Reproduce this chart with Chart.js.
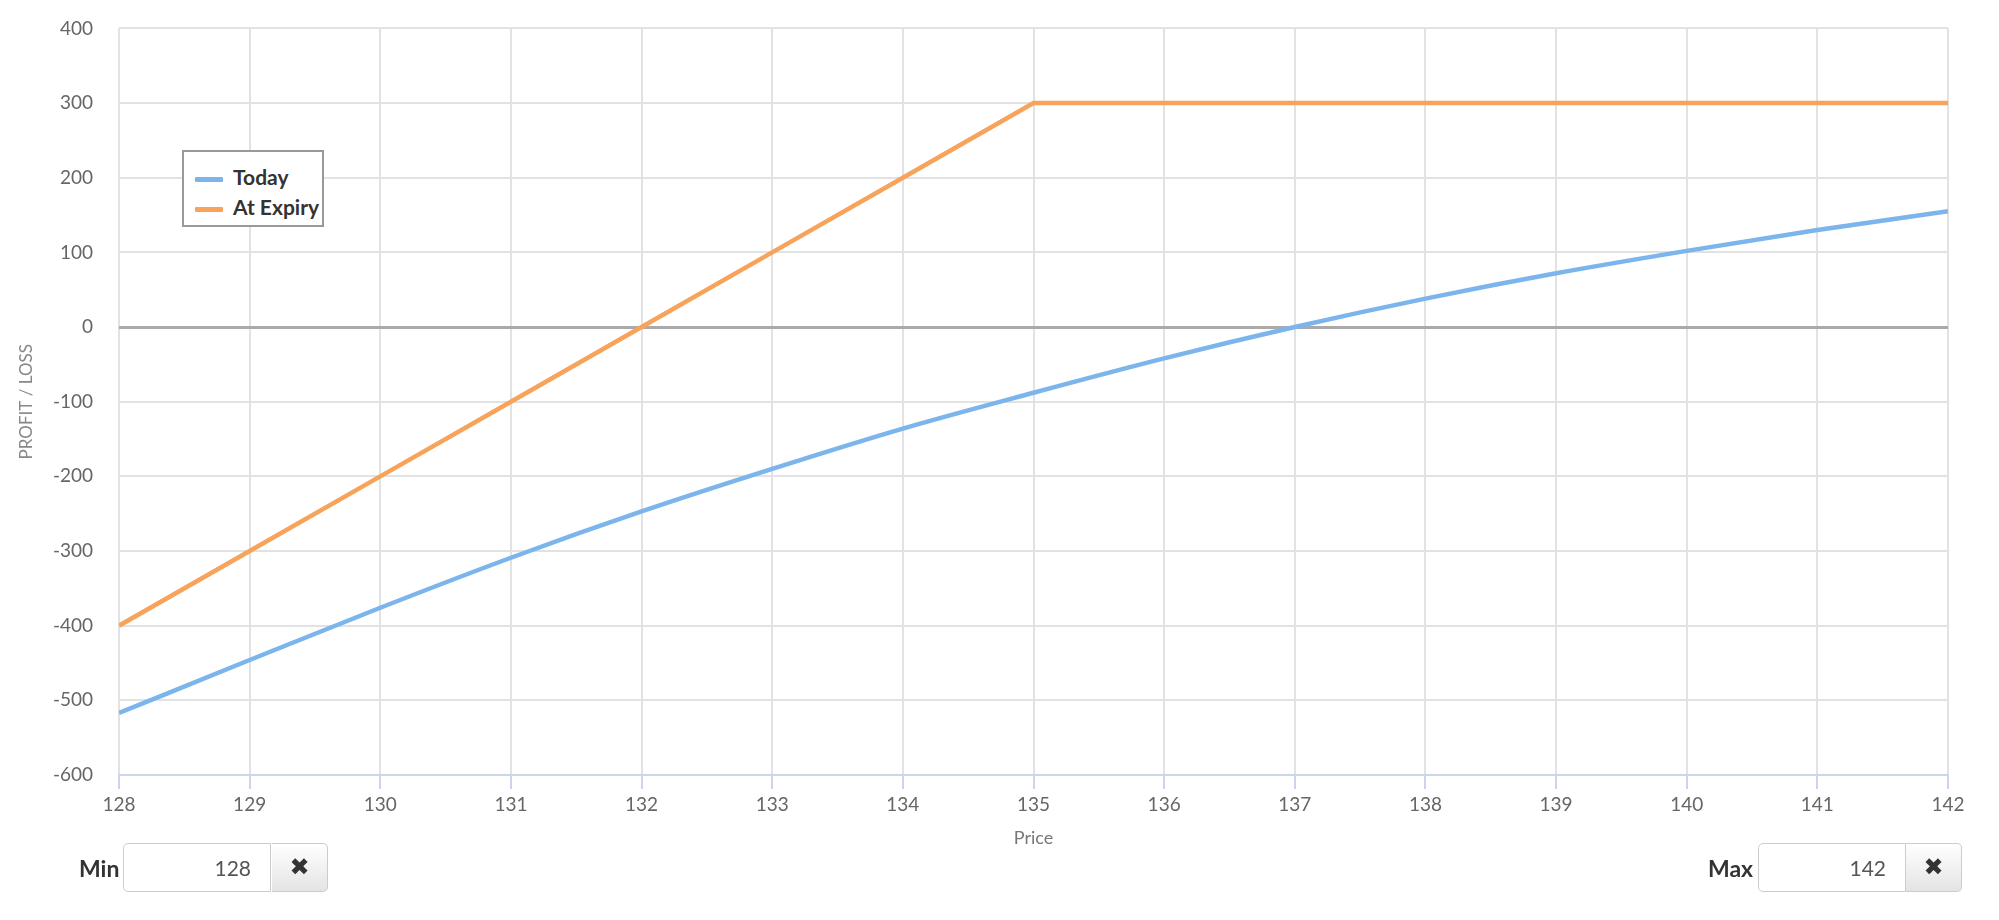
<!DOCTYPE html>
<html>
<head>
<meta charset="utf-8">
<script src="https://cdn.jsdelivr.net/npm/chart.js@4"></script>
<style>
  html, body { margin: 0; padding: 0; background: #fff; }
  body { width: 1999px; height: 920px; position: relative; overflow: hidden; font-family: Lato, sans-serif; }
  #wrap { position: absolute; left: 0; top: -9px; width: 1999px; height: 869px; }
  #legend {
    position: absolute; left: 182px; top: 150px; width: 138px; height: 73px;
    border: 2px solid #999; background: #fff;
    font-family: "Liberation Sans Narrow", Lato, sans-serif; font-weight: bold; font-size: 21px; color: #333;
  }
  #legend .row { position: absolute; left: 11px; height: 30px; line-height: 30px; white-space: nowrap; }
  #legend .sw { display: inline-block; width: 28px; height: 5px; vertical-align: middle; margin-right: 10px; border-radius: 1px; }
  .lbl { position: absolute; top: 843px; height: 50px; line-height: 50px; font-weight: bold; font-size: 23px; color: #333; }
  .inp {
    position: absolute; top: 843px; height: 47px; width: 146px; box-sizing: content-box;
    border: 1.5px solid #ccc; border-radius: 5px 0 0 5px; background: #fff;
    text-align: right; line-height: 47px; font-size: 21px; color: #555; padding: 0;
  }
  .inp span { padding-right: 19px; }
  .btn {
    position: absolute; top: 843px; height: 47px; width: 55px;
    border: 1.5px solid #ccc; border-left: none; border-radius: 0 5px 5px 0;
    background: linear-gradient(#ffffff, #e4e4e4);
    text-align: center; line-height: 47px; font-family: "DejaVu Sans", sans-serif; font-size: 24px; color: #333;
  }
</style>
</head>
<body>
<div id="wrap"><canvas id="plChart"></canvas></div>
<div id="legend"></div>

<div class="lbl" style="left:79px;">Min</div>
<div class="inp" style="left:123px;"><span>128</span></div>
<div class="btn" style="left:272px;">&#10006;</div>

<div class="lbl" style="left:1708px;">Max</div>
<div class="inp" style="left:1758px;"><span>142</span></div>
<div class="btn" style="left:1906px;">&#10006;</div>

<script>
// underlying price at which P/L is evaluated
const prices = [128, 129, 130, 131, 132, 133, 134, 135, 136, 137, 138, 139, 140, 141, 142];
// P/L today (curved) and at expiry (spread payoff)
const todayPL = [-517, -446, -376, -309, -247, -190, -136, -88, -42, 0, 38, 72, 102, 130, 155];
const expiryPL = [-400, -300, -200, -100, 0, 100, 200, 300, 300, 300, 300, 300, 300, 300, 300];
const seriesNames = ['Today', 'At Expiry'];
const seriesColors = ['#7cb5ec', '#f7a35c'];

const toPoints = (vals) => prices.map((p, i) => ({ x: p, y: vals[i] }));

// html legend floating inside the plot
const legendEl = document.getElementById('legend');
seriesNames.forEach((name, i) => {
    const row = document.createElement('div');
    row.className = 'row';
    row.style.top = (10 + i * 30) + 'px';
    row.innerHTML = '<span class="sw" style="background:' + seriesColors[i] + '"></span>' + name;
    legendEl.appendChild(row);
});

const tickFont = { family: 'Lato', size: 19 };

const ctx = document.getElementById('plChart').getContext('2d');
new Chart(ctx, {
    type: 'line',
    data: {
        datasets: [
            {
                label: seriesNames[0],
                data: toPoints(todayPL),
                borderColor: seriesColors[0],
                borderWidth: 4.5,
                pointRadius: 0,
                cubicInterpolationMode: 'monotone',
                fill: false
            },
            {
                label: seriesNames[1],
                data: toPoints(expiryPL),
                borderColor: seriesColors[1],
                borderWidth: 4.5,
                pointRadius: 0,
                tension: 0,
                fill: false
            }
        ]
    },
    options: {
        responsive: true,
        maintainAspectRatio: false,
        animation: false,
        layout: { padding: { top: 19, right: 51, left: 0, bottom: 0 } },
        plugins: {
            legend: { display: false },
            tooltip: { enabled: false }
        },
        scales: {
            x: {
                type: 'linear',
                min: 128,
                max: 142,
                ticks: { stepSize: 1, color: '#666', font: tickFont, padding: 4 },
                grid: { color: '#e2e2e2', lineWidth: 2, tickColor: '#ccd6eb', tickLength: 14 },
                border: { color: '#ccd6eb', width: 2 },
                title: { display: true, text: 'Price', color: '#777', font: { family: 'Lato', size: 18 }, padding: { top: 4, bottom: 11 } },
                afterFit: (scale) => { scale.height = 85; }
            },
            y: {
                min: -600,
                max: 400,
                ticks: { stepSize: 100, color: '#666', font: tickFont, padding: 26 },
                grid: {
                    drawTicks: false,
                    color: (c) => (c.tick && c.tick.value === 0 ? '#aaaaaa' : '#e2e2e2'),
                    lineWidth: (c) => (c.tick && c.tick.value === 0 ? 3 : 2)
                },
                border: { display: false },
                title: { display: true, text: 'PROFIT / LOSS', color: '#888', font: { family: 'Lato', size: 17 }, padding: { top: 16, bottom: 0 } },
                afterFit: (scale) => { scale.width = 119; }
            }
        }
    }
});
</script>
</body>
</html>
